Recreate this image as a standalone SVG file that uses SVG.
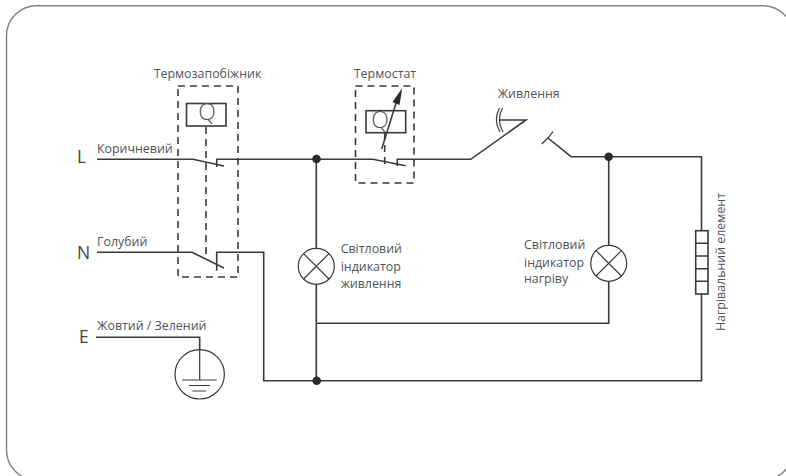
<svg xmlns="http://www.w3.org/2000/svg" width="786" height="476" viewBox="0 0 786 476">
<style>
.w{fill:none;stroke:#3a3a3a;stroke-width:1.6}
.t{fill:none;stroke:#3a3a3a;stroke-width:1.2}
.d{fill:none;stroke:#3a3a3a;stroke-width:1.6;stroke-dasharray:7 5}
.n{fill:#2b2b2b}
text{font-family:"Open Sans","Noto Sans",sans-serif;font-size:12.4px;fill:#50545a}
.b{font-size:17.500px;fill:#444}
.q{font-size:23px;font-weight:300;fill:#555}
</style>
<rect x="6.500" y="5.700" width="786.500" height="474.300" rx="30" fill="#fff" stroke="#858585" stroke-width="1.500"/>
<g id="connectors">
<path class="w" d="M97 159.300H193L224 166M216.700 167V159.300H373L405.700 165.700M397.300 166V159.300H470.700L526 120H500M571 156.700L548 138M571 156.700H701.500V231M701.500 294V380.700H263.700V252.300H216.700V270.700"/>
<path class="w" d="M97 252.300H192L224 268M96 337.300H199.700V350"/>
<path class="w" d="M316.300 159.300V248.300M316.300 284.300V380.700M316.300 323.300H608.700V281.300M608.700 156.700V245.300"/>
<path class="t" d="M541.700 144L548 138L553 131.700"/>
<path class="t" d="M499.500 108Q493 120 500 132M502.500 108Q496 120 503 132"/>
<circle class="n" cx="316.500" cy="159" r="4.300"/>
<circle class="n" cx="608.700" cy="156.700" r="4.300"/>
<circle class="n" cx="316.700" cy="380.700" r="4.300"/>
</g>
<g id="thermal-fuse">
<rect class="d" x="178" y="86" width="60" height="191"/>
<rect class="w" x="186.500" y="103.500" width="39.500" height="22.500"/>
<text class="q" x="207" y="120" text-anchor="middle">Q</text>
<path class="d" d="M206 127V256"/>
<text x="207.500" y="78" text-anchor="middle">Термозапобіжник</text>
</g>
<g id="thermostat">
<rect class="d" x="355.500" y="86" width="58.500" height="97"/>
<rect class="w" x="366" y="110.700" width="39.700" height="22"/>
<text class="q" x="380" y="128" text-anchor="middle">Q</text>
<path class="d" d="M384.700 133V168"/>
<path class="w" d="M381.700 149L397 100"/>
<path class="n" d="M402.300 88L392.500 102L399.500 105Z"/>
<text x="385" y="78" text-anchor="middle">Термостат</text>
</g>
<g id="switch"><text x="528.700" y="98" text-anchor="middle">Живлення</text></g>
<g id="lamp-power">
<circle class="t" cx="316.300" cy="266.300" r="18"/>
<path class="t" d="M303.600 253.600L329 279M329 253.600L303.600 279"/>
<text x="340.700" y="253.300">Світловий</text><text x="340.700" y="270.700">індикатор</text><text x="340.700" y="287.700">живлення</text>
</g>
<g id="lamp-heat">
<circle class="t" cx="608.700" cy="263.300" r="18"/>
<path class="t" d="M596 250.600L621.400 276M621.400 250.600L596 276"/>
<text x="524" y="249.300">Світловий</text><text x="524" y="266.700">індикатор</text><text x="524" y="283.300">нагріву</text>
</g>
<g id="heater">
<rect class="w" x="695.700" y="230.700" width="12.300" height="63.300" fill="#fff"/>
<path class="w" d="M695.700 243.300H708M695.700 256H708M695.700 268.700H708M695.700 281.300H708"/>
<text transform="translate(725 331) rotate(-90)">Нагрівальний елемент</text>
</g>
<g id="terminals">
<text class="b" x="77" y="163">L</text><text x="97" y="153">Коричневий</text>
<text class="b" x="77" y="259">N</text><text x="97" y="246">Голубий</text>
<text class="b" x="79" y="342.500">E</text><text x="97" y="330">Жовтий / Зелений</text>
</g>
<g id="ground">
<circle class="t" cx="199.700" cy="374.300" r="24.700"/>
<path class="t" d="M199.700 349.600V380M182 380H216.700M189 385.500H210M192.500 391H206"/>
</g>
</svg>
